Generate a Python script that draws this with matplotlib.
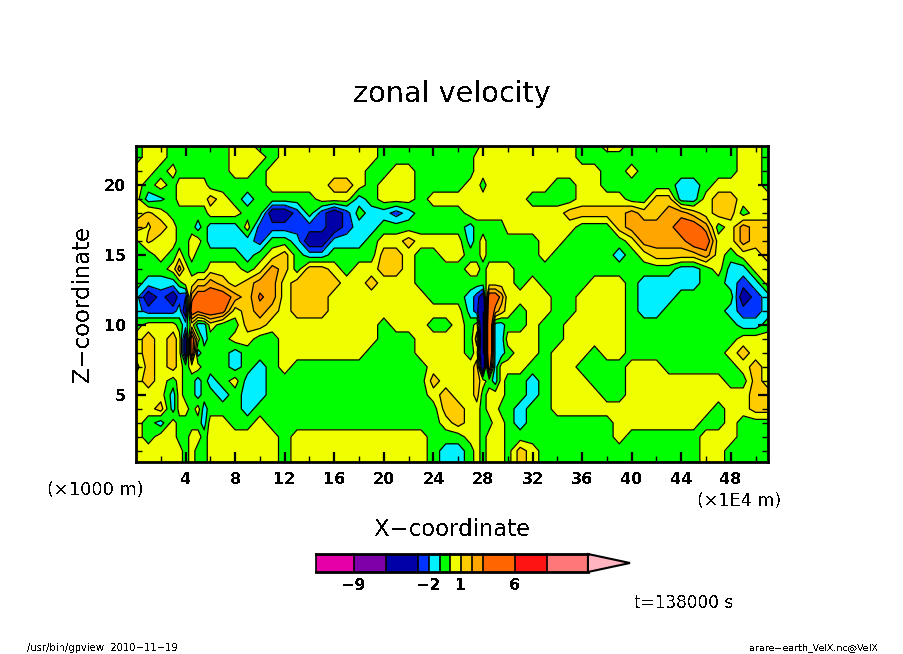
import numpy as np
import matplotlib
matplotlib.use("Agg")
import matplotlib.pyplot as plt
from matplotlib.colors import ListedColormap, BoundaryNorm
from matplotlib.patches import Polygon

plt.rcParams['text.antialiased'] = False
plt.rcParams['font.family'] = ['DejaVu Sans']

x_nodes = [0,1,2,3,3.5,4,4.5,5,5.5,6,
           7,8,9,10,11,12,13,14,15,16,17,18,19,20,21,22,23,24,25,26,
           27,27.5,28,28.5,29,29.5,30,
           31,32,33,34,35,36,37,38,39,40,41,42,43,44,45,46,47,48,49,50,51]
z_nodes = [0.2,1,2,3,4,5,6,7,8,9,10,11,12,13,14,15,16,17,18,19,20,21,22,22.8]

u_z00 = [.5,.5,.5,.5,.5,-.5,.5,-.5,-.5,.5, .5,.5,.5,.5,.5,-.5,.5,.5,.5,.5,.5,.5,.5,.5,.5,.5,.5,-.5,-1.5,-1.5, -.5,.5,-.5,.5,.5,.5,-.5, 1.5,.5,-.5,-.5,-.5,-.5,-.5,-.5,-.5,-.5,-.5,-.5,-.5,-.5,-.5,.5,.5,-.5,-.5,-.5,-.5]
u_z01 = [.5,.5,.5,.5,.5,-.5,.5,-.5,-.5,.5, .5,.5,.5,.5,.5,-.5,.5,.5,.5,.5,.5,.5,.5,.5,.5,.5,.5,-.5,-1.5,-1.5, -.5,.5,-.5,.5,.5,.5,-.5, 1.5,.5,-.5,-.5,-.5,-.5,-.5,-.5,-.5,-.5,-.5,-.5,-.5,-.5,-.5,.5,.5,-.5,-.5,-.5,-.5]
u_z02 = [.5,-.5,.5,.5,-.5,-.5,.5,.5,-.5,.5, .5,.5,.5,.5,.5,-.5,.5,.5,.5,.5,.5,.5,.5,.5,.5,.5,.5,-.5,-.5,-.5, .5,.5,-.5,.5,.5,.5,-.5, -.5,-.5,-.5,-.5,-.5,-.5,-.5,-.5,.5,-.5,-.5,-.5,-.5,-.5,-.5,.5,.5,.5,-.5,-.5,-.5]
u_z03 = [.5,-.5,-1.5,.5,-.5,-.5,-.5,-.5,-1.5,.5, .5,-.5,-.5,.5,-.5,-.5,-.5,-.5,-.5,-.5,-.5,-.5,-.5,-.5,-.5,-.5,-.5,-.5,.5,1.5, .5,.5,-.5,-.5,.5,.5,-.5, -1.5,-.5,-.5,-.5,-.5,-.5,-.5,-.5,.5,.5,.5,.5,.5,.5,.5,-.5,-.5,.5,-.5,-.5,-.5]
u_z04 = [.5,.5,1.5,-1.5,.5,.5,-.5,.5,-1.5,-.5, -.5,-.5,-1.5,-.5,-.5,-.5,-.5,-.5,-.5,-.5,-.5,-.5,-.5,-.5,-.5,-.5,-.5,-.5,1.5,1.5, .5,.5,-.5,.5,.5,-.5,-.5, -1.5,-.5,-.5,.5,.5,.5,.5,.5,.5,.5,.5,.5,.5,.5,.5,.5,-.5,.5,.5,1.5,1.5]
u_z05 = [.5,.5,.5,-1.5,.5,-.5,-.5,-1.5,-.5,-.5, -1.5,-.5,-1.5,-1.5,-.5,-.5,-.5,-.5,-.5,-.5,-.5,-.5,-.5,-.5,-.5,-.5,-.5,.5,1.5,.5, .5,1.5,-.5,.5,.5,.5,-.5, -.5,-1.5,-.5,.5,.5,.5,.5,-.5,-.5,.5,.5,.5,.5,.5,.5,.5,.5,.5,.5,1.5,1.5]
u_z06 = [.5,1.5,.5,-.5,.5,-.5,-.5,-1.5,-.5,-1.5, -.5,.5,-1.5,-1.5,-.5,-.5,-.5,-.5,-.5,-.5,-.5,-.5,-.5,-.5,-.5,-.5,-.5,1.5,.5,.5, .5,1.5,.5,-.5,-1.5,.5,-.5, -.5,-1.5,-.5,.5,.5,.5,-.5,-.5,-.5,.5,.5,.5,.5,.5,.5,.5,.5,-.5,-.5,1.5,.5]
u_z07 = [-.5,1.5,.5,1.5,.5,-.5,.5,.5,-.5,-.5, -.5,-1.5,-.5,-1.5,-.5,.5,-.5,-.5,-.5,-.5,-.5,-.5,-.5,-.5,-.5,-.5,-.5,.5,.5,.5, .5,1.5,-5,4,-1.5,.5,.5, .5,-.5,-.5,.5,.5,-.5,-.5,-.5,-.5,.5,.5,.5,-.5,-.5,-.5,-.5,-.5,-.5,.5,1.5,.5]
u_z08 = [.5,1.5,.5,1.5,.5,-4,4,-1.5,-.5,-.5, -.5,-1.5,-.5,-.5,-.5,.5,.5,.5,.5,.5,.5,.5,-.5,-.5,-.5,-.5,.5,.5,.5,.5, -.5,.5,-6,6,-1.5,-1.5,-.5, .5,.5,-.5,.5,.5,.5,-.5,.5,.5,-.5,-.5,-.5,-.5,-.5,-.5,-.5,-.5,.5,1.5,.5,.5]
u_z09 = [.5,1.5,.5,1.5,.5,-4,4,.5,-1.5,-.5, -.5,.5,.5,-.5,-.5,.5,.5,.5,.5,.5,.5,.5,.5,-.5,-.5,-.5,.5,.5,.5,.5, -.5,1.5,-6,6,-1.5,-1.5,.5, .5,.5,-.5,-.5,.5,.5,.5,.5,.5,-.5,-.5,-.5,-.5,-.5,-.5,-.5,-.5,-.5,.5,.5,.5]
u_z10 = [-.5,.5,.5,.5,-.5,-1.5,.5,-1.5,-1.5,.5, -.5,-.5,1.5,1.5,.5,.5,.5,.5,.5,.5,.5,.5,.5,-.5,.5,.5,.5,-.5,-.5,.5, -.5,.5,-6,6,-1.5,-1.5,-.5, -.5,.5,-.5,-.5,.5,.5,.5,.5,.5,-.5,-.5,-.5,-.5,-.5,-.5,-.5,-.5,-.5,-1.5,-1.5,-.5]
u_z11 = [-1.5,-2.5,-2.5,-2.5,-1.5,-4,4,3.2,4,4, 3.5,.5,1.5,2.5,1.5,.5,1.5,1.5,1.5,.5,.5,.5,.5,.5,.5,.5,.5,.5,.5,.5, -1.5,-2.5,-6,5,2.5,1.5,.5, -.5,.5,.5,-.5,-.5,.5,.5,.5,.5,-.5,-1.5,-1.5,-.5,-.5,-.5,-.5,-.5,-1.5,-2.5,-2.5,-1.5]
u_z12 = [-1.5,-4,-2.5,-4,-2.5,-3,2.5,4,4,4, 4,2.5,1.5,3.2,2.5,.5,1.5,1.5,1.5,.5,.5,.5,.5,.5,.5,.5,.5,-.5,-.5,-.5, -1.5,-2.5,-4,4,4,2.5,.5, .5,.5,.5,-.5,-.5,.5,.5,.5,.5,-.5,-1.5,-1.5,-1.5,-.5,-.5,-.5,-.5,-.5,-4,-2.5,-1.5]
u_z13 = [-.5,-1.5,-1.5,-1.5,-.5,.5,.5,1.5,1.5,2.5, 1.5,.5,1.5,2.5,2.5,.5,1.5,1.5,1.5,1.5,.5,.5,1.5,.5,.5,.5,-.5,-.5,-.5,-.5, -.5,-.5,-.5,.5,.5,.5,.5, -.5,.5,-.5,-.5,-.5,-.5,.5,.5,.5,-.5,-1.5,-1.5,-1.5,-1.5,-1.5,-.5,-.5,-1.5,-2.5,-1.5,.5]
u_z14 = [-.5,-.5,-.5,.5,2.5,.5,-.5,-.5,-.5,.5, .5,.5,-.5,.5,2.5,1.5,-.5,1.5,1.5,.5,-.5,.5,.5,1.5,1.5,.5,-.5,-.5,-.5,-.5, .5,.5,-.5,.5,.5,.5,.5, -.5,-.5,-.5,-.5,-.5,-.5,-.5,-.5,-.5,-.5,-.5,-.5,-.5,-1.5,-1.5,-.5,.5,-1.5,-1.5,.5,.5]
u_z15 = [-.5,-.5,.5,-.5,.5,-.5,.5,-.5,-.5,-.5, -.5,-.5,-1.5,-.5,.5,1.5,-.5,-1.5,-1.5,-.5,-.5,-.5,-.5,1.5,1.5,.5,-.5,-.5,.5,.5, -.5,-.5,.5,-.5,-.5,-.5,-.5, -.5,-.5,.5,-.5,-.5,-.5,-.5,-.5,-1.5,-.5,.5,1.5,1.5,1.5,1.5,2.5,.5,-.5,.5,.5,1.5]
u_z16 = [-.2,1.2,.5,.5,-.5,-.5,.5,.5,-.5,-1.5, -1.5,-1.5,-1.5,-2.5,-.5,-.5,-1.5,-4,-4,-1.5,-1.5,-1.5,-.5,.5,.5,1.5,.5,.5,.5,.5, -1.5,-.5,.5,-.5,-.5,-.5,-.5, -.5,-.5,.5,.5,-.5,-.5,-.5,-.5,-.5,.5,2.5,2.5,2.5,2.5,4,4,.5,.5,2.5,1.5,1.5]
u_z17 = [1.5,.9,1.5,.5,-.5,-.5,-.5,-1.5,-.5,-1.5, -1.5,-1.5,.5,-2.5,-2.5,-2.5,-2.5,-2.5,-2.5,-4,-2.5,-1.5,-1.5,-.5,-.5,-.5,-.5,-.5,-.5,-.5, -1.5,-.5,-.5,-.5,-.5,-.5,.5, .5,.5,.5,.5,.5,-.5,-.5,-.5,1.5,2.5,2.5,2.5,2.5,4,4,2.5,-.5,.5,2.5,1.5,1.5]
u_z18 = [.5,1.2,.5,-.5,-.5,-.5,-.5,-.5,-.5,.5, .5,.5,-.5,-.5,-4,-4,-2.5,-.5,-2.5,-4,-2.5,-.5,-1.5,-1.5,-2.5,-1.5,-.5,-.5,-.5,-.5, .5,.5,.5,.5,.5,.5,.5, .5,.5,.5,.5,1.5,1.5,1.5,1.5,1.5,2.5,1.5,1.5,2.5,2.5,1.5,.5,1.5,1.5,-.5,.5,.5]
u_z19 = [.5,-1.5,-1.2,-.5,.5,.5,.5,.5,.5,1.5, .5,-.5,-1.5,-.5,-.5,-.5,-.5,-.5,.5,.5,.5,-1.5,-.5,.5,.5,.5,-.5,.5,.5,.5, .5,.5,.5,.5,.5,.5,.5, .5,-.5,-.5,-.5,-.5,.5,.5,.5,.5,-.5,-.5,1.5,1.5,-1.5,-1.5,.5,1.5,1.5,.5,.5,.5]
u_z20 = [.5,-.5,.5,-.5,.5,.5,.5,.5,.5,-.5, -.5,-.5,-.5,-.5,.5,.5,.5,.5,.5,1.5,1.5,.5,-.5,.5,.5,.5,-.5,-.5,-.5,-.5, .5,.5,-.5,.5,.5,.5,.5, .5,.5,.5,-.5,-.5,.5,.5,-.5,-.5,-.5,-.5,-.5,-.5,-1.5,-1.5,-.5,.5,.5,.5,.5,-.5]
u_z21 = [.5,.5,-.5,.5,-.5,-.5,-.5,-.5,-.5,-.5, -.5,.5,.5,-.5,.5,.5,.5,.5,.5,.5,.5,.5,-.5,-.5,.5,.5,-.5,-.5,-.5,-.5, -.5,.5,.5,.5,.5,.5,.5, .5,.5,.5,.5,.5,.5,.5,-.5,-.5,.5,-.5,-.5,-.5,-.5,-.5,-.5,-.5,-.5,.5,.5,-.5]
u_z22 = [-.5,.5,.5,-.5,-.5,-.5,-.5,-.5,-.5,-.5, -.5,.5,.5,.5,-.5,.5,.5,.5,.5,.5,.5,.5,.5,-.5,-.5,-.5,-.5,-.5,-.5,-.5, -.5,.5,.5,.5,.5,.5,.5, .5,.5,.5,.5,.5,-.5,-.5,-.5,-.5,-.5,-.5,-.5,-.5,-.5,-.5,-.5,-.5,-.5,.5,.5,-.5]
u_z23 = [-.5,.5,.5,-.5,-.5,-.5,-.5,-.5,-.5,-.5, -.5,.5,.5,-.5,-.5,.5,.5,.5,.5,.5,.5,.5,.5,-.5,-.5,-.5,-.5,-.5,-.5,-.5, -.5,-.5,.5,.5,.5,.5,.5, .5,.5,.5,.5,.5,-.5,-.5,.5,.5,-.5,-.5,-.5,-.5,-.5,-.5,-.5,-.5,-.5,.5,.5,-.5]

u_rows = [u_z00,u_z01,u_z02,u_z03,u_z04,u_z05,u_z06,u_z07,u_z08,u_z09,u_z10,u_z11,
          u_z12,u_z13,u_z14,u_z15,u_z16,u_z17,u_z18,u_z19,u_z20,u_z21,u_z22,u_z23]

levels = [-12.5,-9,-6,-3,-2,-1,0,1,2,3,6,9,12.8]
colors = ['#e600a8','#7d00a8','#0000a8','#0033ff','#00f0ff','#00ff00','#f0ff00',
          '#ffcc00','#ffa500','#ff6600','#ff1414','#ff7878']
over_colour = '#ffb4c0'
bar_labels = [-9,-2,1,6]
x_ticks = [4,8,12,16,20,24,28,32,36,40,44,48]
z_ticks = [5,10,15,20]

W, H = 904, 654
fig = plt.figure(figsize=(W/100, H/100), dpi=100)
ax = fig.add_axes([136/W, 1-462/H, 632/W, 316/H])
U = np.array(u_rows, dtype=float)
cmap = ListedColormap(colors); cmap.set_over(over_colour); cmap.set_under(colors[0])
norm = BoundaryNorm(levels, cmap.N)
ax.contourf(x_nodes, z_nodes, U, levels=levels, cmap=cmap, norm=norm, extend='both', antialiased=False)
ax.contour(x_nodes, z_nodes, U, levels=levels, colors='k', linewidths=0.9, linestyles='solid')
ax.set_xlim(0, 51); ax.set_ylim(0.2, 22.8)
ax.set_xticks(x_ticks); ax.set_yticks(z_ticks)
ax.set_xticks(np.arange(2, 51, 4), minor=True)
ax.set_yticks([t for t in range(1, 23) if t % 5], minor=True)
ax.tick_params(which='major', direction='in', top=True, right=True, length=7, width=1.6, labelsize=11.5, pad=7)
ax.tick_params(which='minor', direction='in', top=True, right=True, length=4, width=1)
for s in ax.spines.values():
    s.set_linewidth(2)
for t in ax.get_xticklabels() + ax.get_yticklabels():
    t.set_fontweight('bold')

def T(px, py, s, size, **kw):
    fig.text(px/W, 1-py/H, s, fontsize=size, ha=kw.pop('ha','center'), va=kw.pop('va','center'), **kw)

T(452, 94, 'zonal velocity', 20.6)
T(452, 529, 'X\u2212coordinate', 16.4)
T(83, 304, 'Z\u2212coordinate', 16.4, rotation=90)
T(95, 490, '(\u00d71000 m)', 12.8)
T(739, 501, '(\u00d71E4 m)', 12.6)
T(684, 603, 't=138000 s', 12.2)
T(102, 648, '/usr/bin/gpview  2010\u221211\u221219', 7.2)
T(814, 648, 'arare\u2212earth_VelX.nc@VelX', 6.8)

# colour bar
cax = fig.add_axes([316/W, 1-572/H, 314/W, 18/H])
pad = (630-588)/((588-354)/(12.8+9))
lo, hi = levels[0], levels[-1]
cax.set_xlim(lo, hi+pad); cax.set_ylim(0, 1)
cax.pcolormesh(levels, [0, 1], np.arange(len(colors)).reshape(1, -1), cmap=ListedColormap(colors), antialiased=False)
for v in levels:
    cax.plot([v, v], [0, 1], color='k', lw=1.2, clip_on=False)
cax.plot([lo, hi], [0, 0], color='k', lw=2, clip_on=False)
cax.plot([lo, hi], [1, 1], color='k', lw=2, clip_on=False)
cax.add_patch(Polygon([[hi, 1], [hi+pad, .5], [hi, 0]], closed=True, fc=over_colour, ec='k', lw=1.5, clip_on=False))
cax.axis('off')
for v in bar_labels:
    xp = 316 + (v-lo)/(hi+pad-lo)*314
    T(xp, 586, str(v).replace('-', '\u2212'), 11.5, fontweight='bold')

fig.savefig('out.png', dpi=100)
